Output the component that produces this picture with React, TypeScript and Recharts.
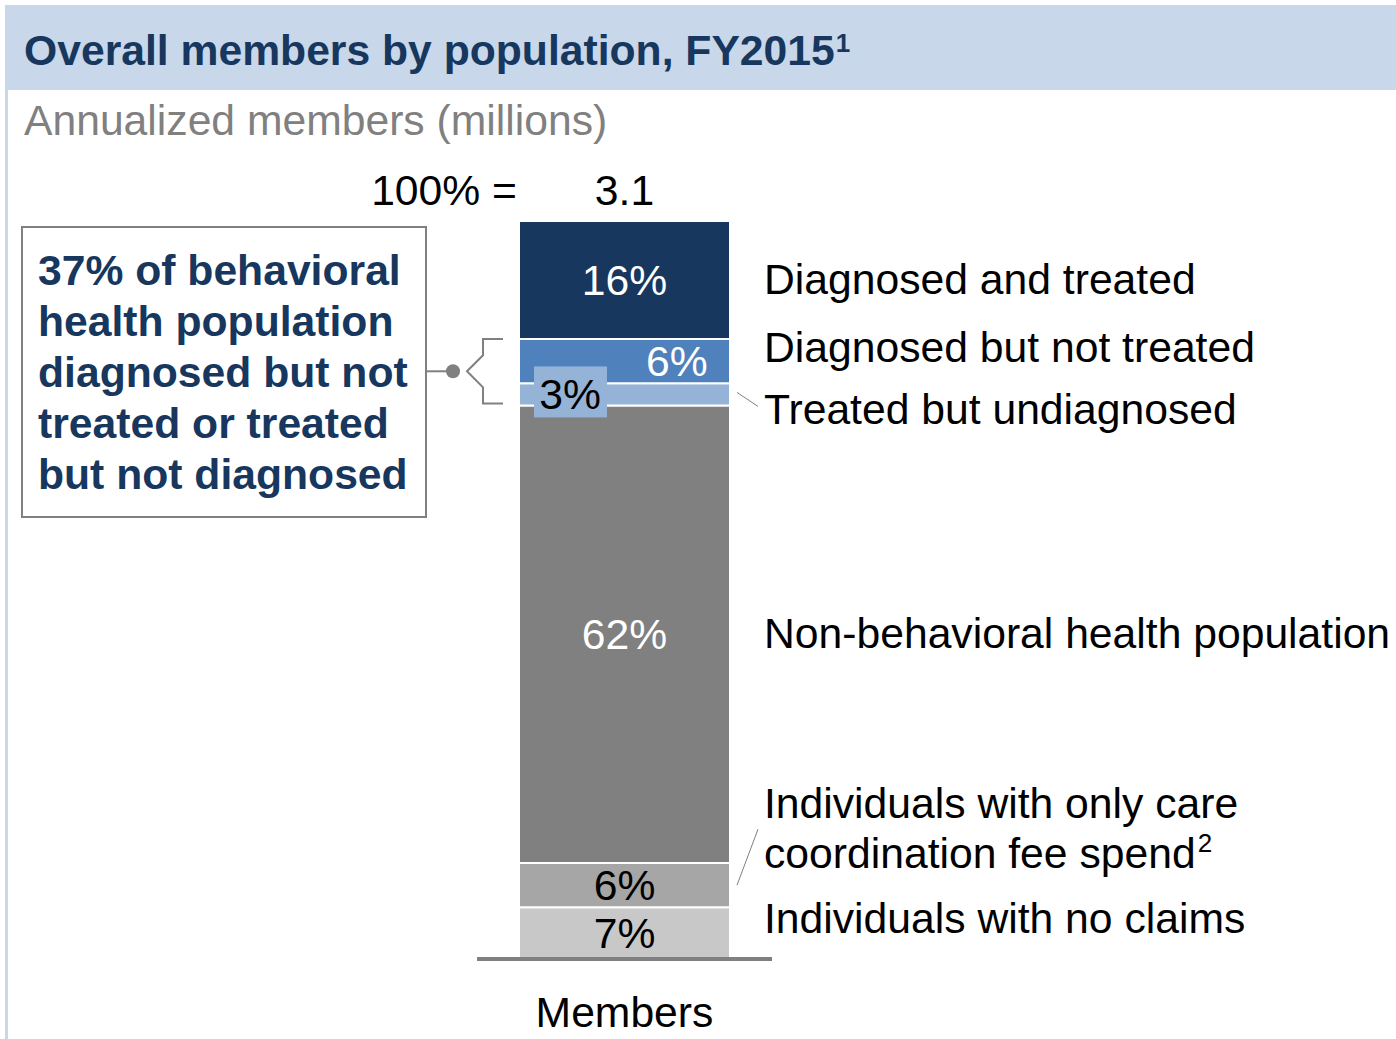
import React from "react";
import { BarChart, Bar, XAxis, YAxis, LabelList } from "recharts";

const FONT = '"Liberation Sans", Arial, sans-serif';
const FS = 42.67;

// bottom to top
const categories = ["Members"];
const segmentKeys = ["noClaims", "careCoord", "nonBh", "treatedUndiag", "diagNotTreated", "diagTreated"];
const segmentShares = [7, 6, 62, 3, 6, 16];
const segmentColors = ["#c8c8c8", "#a6a6a6", "#808080", "#95b3d7", "#4f81bd", "#17375e"];
const segmentLabelColors = ["#000", "#000", "#fff", "#000", "#fff", "#fff"];
const totalMembers = [3.1];

const calloutLines = [
  "37% of behavioral",
  "health population",
  "diagnosed but not",
  "treated or treated",
  "but not diagnosed",
];

const data = categories.map((name, c) => {
  const row: Record<string, any> = { name, total: totalMembers[c] };
  segmentKeys.forEach((k, i) => (row[k] = segmentShares[i]));
  return row;
});

const txt = { fontFamily: FONT, fontSize: FS };

function segmentLabel(i: number) {
  return (props: any) => {
    const x = Number(props.x) + 1;
    const y = Number(props.y);
    const w = Number(props.width) - 2;
    const h = Number(props.height);
    const cy = y + h / 2;
    const right = x + w;
    const label = `${props.value}%`;
    const out: React.ReactNode[] = [];

    if (i === 3) {
      out.push(<rect key="bg" x={x + 14} y={cy - 28} width={73} height={51} fill="#95b3d7" />);
      out.push(
        <text key="v" x={x + 50} y={cy + 15} textAnchor="middle" fill="#000" style={txt}>{label}</text>
      );
      // bracket around "diagnosed but not treated" + "treated but undiagnosed"
      const top = y - h * (segmentShares[4] / segmentShares[3]);
      const bottom = y + h - 2;
      const mid = (top + bottom) / 2;
      const s = "#808080";
      out.push(
        <g key="br" stroke={s} strokeWidth={2} fill="none">
          <polyline points={`${x - 17},${top} ${x - 37},${top} ${x - 37},${mid - 16} ${x - 53},${mid} ${x - 37},${mid + 16} ${x - 37},${bottom} ${x - 17},${bottom}`} />
          <line x1={426} y1={mid} x2={x - 67} y2={mid} />
          <circle cx={x - 67} cy={mid} r={7} fill={s} stroke="none" />
        </g>
      );
      out.push(<line key="ld" x1={right + 8} y1={cy - 2} x2={right + 29} y2={cy + 12} stroke="#808080" strokeWidth={1} />);
      out.push(<text key="n" x={right + 35} y={cy + 30} style={txt}>Treated but undiagnosed</text>);
    } else {
      const lx = i === 4 ? x + w * 0.75 : x + w / 2;
      out.push(
        <text key="v" x={lx} y={cy + 15} textAnchor="middle" fill={segmentLabelColors[i]} style={txt}>{label}</text>
      );
    }

    if (i === 5) {
      out.push(<text key="t1" x={x - 3} y={y - 16} textAnchor="end" style={txt}>100% =</text>);
      out.push(<text key="t2" x={x + w / 2} y={y - 16} textAnchor="middle" style={txt}>{totalMembers[0]}</text>);
      out.push(<text key="n" x={right + 35} y={cy + 14} style={txt}>Diagnosed and treated</text>);
    }
    if (i === 4) out.push(<text key="n" x={right + 35} y={cy + 1} style={txt}>Diagnosed but not treated</text>);
    if (i === 2) out.push(<text key="n" x={right + 35} y={cy + 14} style={txt}>Non-behavioral health population</text>);
    if (i === 1) {
      out.push(<line key="ld" x1={right + 8} y1={cy} x2={right + 29} y2={cy - 56} stroke="#808080" strokeWidth={1} />);
      out.push(<text key="n1" x={right + 35} y={cy - 67} style={txt}>Individuals with only care</text>);
      out.push(
        <text key="n2" x={right + 35} y={cy - 17} style={txt}>
          coordination fee spend<tspan fontSize={26} dx={2} dy={-16}>2</tspan>
        </text>
      );
    }
    if (i === 0) out.push(<text key="n" x={right + 35} y={cy} style={txt}>Individuals with no claims</text>);
    return <g>{out}</g>;
  };
}

const MemberTick = (props: any) => (
  <text x={props.x} y={1027} textAnchor="middle" fill="#000" style={txt}>
    {props.payload.value}
  </text>
);

export default function App() {
  return (
    <div style={{ position: "absolute", left: 0, top: 0, width: 1396, height: 1039, background: "#fff" }}>
      <svg width={1396} height={1039} style={{ position: "absolute", left: 0, top: 0 }}>
        <rect x={5} y={5} width={1391} height={85} fill="#c8d7e9" />
        <rect x={5} y={90} width={3} height={949} fill="#c8d7e9" />
        <text x={24} y={65} fill="#17375e" style={{ ...txt, fontWeight: "bold" }}>
          Overall members by population, FY2015
          <tspan fontSize={26} dx={1} dy={-13}>1</tspan>
        </text>
        <text x={24} y={135} fill="#808080" style={txt}>Annualized members (millions)</text>
        <rect x={22} y={227} width={404} height={290} fill="#fff" stroke="#808080" strokeWidth={2} />
        {calloutLines.map((line, k) => (
          <text key={k} x={38} y={285 + k * 51} fill="#17375e" style={{ fontFamily: FONT, fontSize: FS, fontWeight: "bold" }}>
            {line}
          </text>
        ))}
      </svg>
      <div style={{ position: "absolute", left: 0, top: 0 }}>
        <BarChart width={1396} height={1039} data={data} margin={{ top: 221, right: 624, left: 477, bottom: 20 }}>
          <XAxis
            dataKey="name"
            height={60}
            axisLine={{ stroke: "#808080", strokeWidth: 4 }}
            tickLine={false}
            tick={<MemberTick />}
          />
          <YAxis hide type="number" domain={[0, 100]} />
          {segmentKeys.map((k, i) => (
            <Bar
              key={k}
              dataKey={k}
              stackId="a"
              fill={segmentColors[i]}
              stroke="#fff"
              strokeWidth={2}
              barSize={211}
              isAnimationActive={false}
            >
              <LabelList dataKey={k} content={segmentLabel(i)} />
            </Bar>
          ))}
        </BarChart>
      </div>
    </div>
  );
}
